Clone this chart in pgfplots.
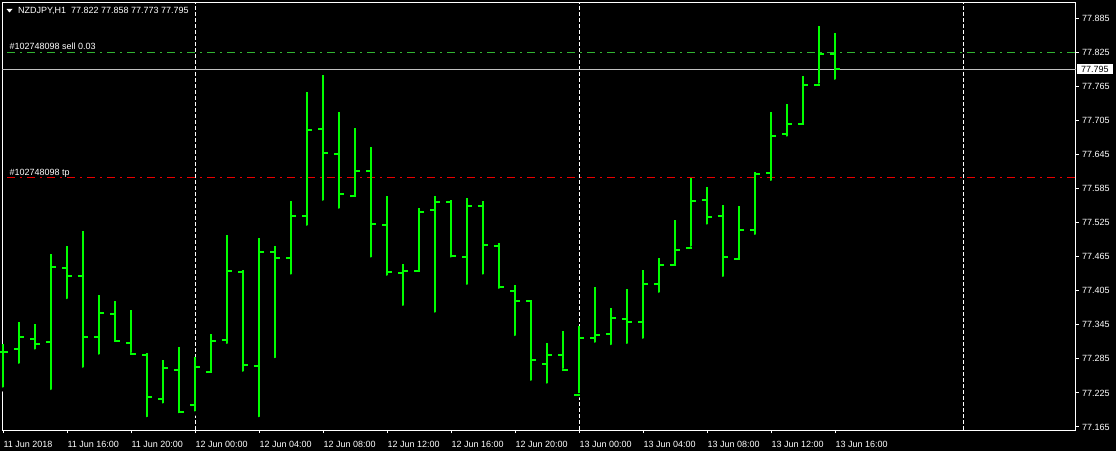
\documentclass[border=0pt]{standalone}
\usepackage{pgfplots}
\pgfplotsset{compat=1.18}
\usepackage{pgfplotstable}
\usepackage{fontspec}
\setmainfont{Liberation Sans}
\definecolor{barcol}{HTML}{00FF00}
\definecolor{selcol}{HTML}{32B432}
\definecolor{tpcol}{HTML}{E80000}
\definecolor{bidcol}{HTML}{C0C0C0}

\pgfdeclareplotmark{openl}{\pgfpathmoveto{\pgfqpoint{-5pt}{0pt}}\pgfpathlineto{\pgfqpoint{1pt}{0pt}}\pgfusepathqstroke}
\pgfdeclareplotmark{closer}{\pgfpathmoveto{\pgfqpoint{-1pt}{0pt}}\pgfpathlineto{\pgfqpoint{5pt}{0pt}}\pgfusepathqstroke}

\pgfplotstableread{
i o h l c
0 77.297 77.312 77.231 77.297
1 77.303 77.350 77.273 77.323
2 77.320 77.346 77.298 77.312
3 77.315 77.470 77.227 77.447
4 77.445 77.484 77.387 77.431
5 77.430 77.510 77.266 77.323
6 77.324 77.397 77.289 77.366
7 77.364 77.387 77.312 77.317
8 77.313 77.371 77.292 77.294
9 77.292 77.295 77.179 77.218
10 77.215 77.283 77.203 77.268
11 77.266 77.306 77.186 77.192
12 77.203 77.289 77.189 77.271
13 77.261 77.329 77.257 77.317
14 77.319 77.503 77.308 77.440
15 77.438 77.441 77.259 77.274
16 77.273 77.498 77.179 77.473
17 77.473 77.484 77.283 77.463
18 77.463 77.563 77.430 77.537
19 77.537 77.755 77.516 77.688
20 77.690 77.785 77.560 77.648
21 77.646 77.720 77.546 77.576
22 77.572 77.691 77.569 77.616
23 77.616 77.658 77.460 77.523
24 77.521 77.572 77.428 77.438
25 77.437 77.452 77.375 77.440
26 77.440 77.551 77.435 77.544
27 77.547 77.572 77.363 77.561
28 77.561 77.565 77.460 77.466
29 77.464 77.568 77.412 77.554
30 77.554 77.563 77.430 77.485
31 77.484 77.489 77.405 77.412
32 77.405 77.415 77.322 77.387
33 77.386 77.386 77.243 77.283
34 77.276 77.313 77.238 77.291
35 77.291 77.334 77.264 77.266
36 77.221 77.343 77.221 77.322
37 77.322 77.411 77.310 77.327
38 77.329 77.375 77.306 77.357
39 77.356 77.408 77.308 77.349
40 77.349 77.441 77.317 77.416
41 77.417 77.463 77.398 77.451
42 77.451 77.529 77.447 77.477
43 77.481 77.603 77.479 77.563
44 77.565 77.588 77.518 77.535
45 77.537 77.556 77.426 77.465
46 77.460 77.554 77.458 77.512
47 77.512 77.614 77.500 77.610
48 77.613 77.720 77.595 77.678
49 77.681 77.734 77.673 77.699
50 77.699 77.783 77.695 77.768
51 77.768 77.871 77.766 77.821
52 77.822 77.858 77.773 77.795
}\ohlc

\begin{document}
\begin{tikzpicture}[x=1pt,y=1pt]
\fill[black] (0,0) rectangle (1116,451);
\begin{axis}[
  at={(2pt,21pt)}, anchor=south west,
  width=1074pt, height=427.5pt, scale only axis,
  xmin=-0.0875, xmax=67.04,
  ymin=77.1597, ymax=77.9124,
  axis line style={white, line width=1pt},
  tick style={white, line width=1pt},
  tick align=outside, major tick length=3pt,
  xtick pos=left, ytick pos=right, yticklabel pos=right,
  xtick={0,4,...,52},
  xticklabels={11 Jun 2018,11 Jun 16:00,11 Jun 20:00,12 Jun 00:00,12 Jun 04:00,12 Jun 08:00,12 Jun 12:00,12 Jun 16:00,12 Jun 20:00,13 Jun 00:00,13 Jun 04:00,13 Jun 08:00,13 Jun 12:00,13 Jun 16:00},
  ytick={77.165,77.225,77.285,77.345,77.405,77.465,77.525,77.585,77.645,77.705,77.765,77.825,77.885},
  /pgf/number format/assume math mode=true,
  yticklabel style={/pgf/number format/fixed, /pgf/number format/fixed zerofill, /pgf/number format/precision=3},
  tick label style={text=white, font=\fontsize{9}{11}\selectfont},
  xticklabel style={anchor=base west, inner sep=0pt, yshift=-14pt},
  yticklabel style={anchor=west, inner sep=0pt, xshift=3pt},
  extra x ticks={12,36,60},
  extra x tick labels={},
  extra x tick style={grid=major, major tick length=0pt, major grid style={white, line width=1pt, dash pattern=on 4pt off 2pt}},
]
\addplot[selcol, line width=1pt, dash pattern=on 8pt off 5pt on 2pt off 5pt] coordinates {(-1,77.825) (68,77.825)};
\addplot[tpcol, line width=1pt, dash pattern=on 8pt off 5pt on 2pt off 5pt] coordinates {(-1,77.605) (68,77.605)};
\addplot[bidcol, line width=1pt] coordinates {(-1,77.795) (68,77.795)};
\addplot[only marks, mark=none, error bars/.cd, y dir=plus, y explicit, error mark=none, error bar style={draw=barcol, line width=2pt}] table[x=i, y=l, y error plus expr=\thisrow{h}-\thisrow{l}] {\ohlc};
\addplot[only marks, mark=openl, draw=barcol, line width=2pt] table[x=i, y=o] {\ohlc};
\addplot[only marks, mark=closer, draw=barcol, line width=2pt] table[x=i, y=c] {\ohlc};
\coordinate (bid) at (axis cs:67.04,77.795);
\end{axis}
\node[anchor=west, fill=white, text=black, inner xsep=4.5pt, inner ysep=1.6pt, font=\fontsize{9}{11}\selectfont] at ([xshift=0.5pt]bid) {77.795};
\fill[white] (6.5,442) -- (12.5,442) -- (9.5,438.5) -- cycle;
\node[anchor=base west, inner sep=0pt, white, font=\fontsize{9}{11}\selectfont] at (18,437) {NZDJPY,H1\ \ 77.822 77.858 77.773 77.795};
\node[anchor=base west, inner sep=0pt, white, font=\fontsize{9}{11}\selectfont] at (9.3,401) {\#102748098 sell 0.03};
\node[anchor=base west, inner sep=0pt, white, font=\fontsize{9}{11}\selectfont] at (9.3,275.5) {\#102748098 tp};
\pgfresetboundingbox
\path[use as bounding box] (0,0) rectangle (1116,451);
\end{tikzpicture}
\end{document}
